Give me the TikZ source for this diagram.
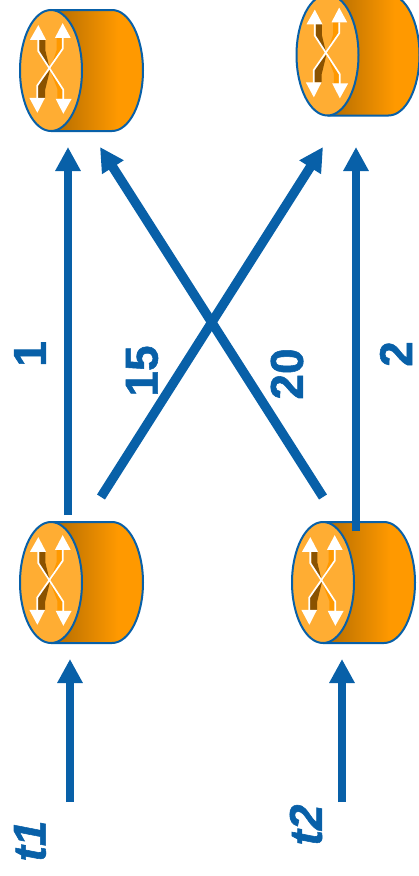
\documentclass[tikz,border=0pt]{standalone}
\usepackage{fontspec}
\setmainfont[BoldFont={Liberation Sans Bold},BoldFeatures={FakeBold=1.2},BoldItalicFont={Liberation Sans Bold Italic},BoldItalicFeatures={FakeBold=1.2}]{Liberation Sans}
\usetikzlibrary{arrows.meta}
\definecolor{netblue}{HTML}{0860A8}
\definecolor{bodyor}{HTML}{FF9900}
\definecolor{bodydk}{HTML}{9C5E00}
\definecolor{faceor}{HTML}{FFAD33}
\definecolor{shadedk}{HTML}{8A5200}
\pgfdeclarehorizontalshading{bodygrad}{100bp}{color(0bp)=(bodydk); color(22bp)=(bodydk); color(60bp)=(bodyor); color(100bp)=(bodyor)}
\tikzset{
  x=1pt,y=-1pt,
  link/.style={draw=netblue,line width=8.2pt,-{Triangle[length=24pt,width=24pt]}},
  diaglink/.style={link,line width=9.4pt},
  outline/.style={draw=netblue,line width=2pt},
  cross/.style={draw=white,line width=1.7pt},
  head/.style={fill=white,draw=none},
  lab/.style={text=netblue,font=\fontsize{46}{46}\selectfont\bfseries,rotate=90,inner sep=0pt},
  tlab/.style={lab,font=\fontsize{46}{46}\selectfont\bfseries\itshape},
}
\newcommand{\routerdraw}[3]{% name, cx, cy
  \coordinate (#1) at (#2,#3);
  \begin{scope}[shift={(#2,#3)}]
    \begin{scope}
      \clip (0,-60.5) -- (61,-60.5) arc[start angle=90,end angle=-90,x radius=31,y radius=-60.5] -- (0,60.5) -- cycle;
      \shade[shading=bodygrad,shading angle=0] (-10,-62) rectangle (100,62);
    \end{scope}
    \draw[outline] (0,-60.5) -- (61,-60.5) arc[start angle=90,end angle=-90,x radius=31,y radius=-60.5] -- (0,60.5);
    \draw[outline,fill=faceor] (0,0) ellipse[x radius=31,y radius=60.5];
    \begin{scope}[shift={(-1,-0.7)},x=0.3333pt,y=-0.3333pt]
      \fill[shadedk] (-32,-92) -- (-14,-92) -- (-14,-58) -- (0,0) -- (-32,-55) -- cycle;
      \fill[bodyor] (20,-96) -- (38,-96) -- (38,-63) -- (0,0) -- (20,-60) -- cycle;
      \fill[shadedk] (-38,84) -- (-15,84) -- (-15,62) -- (0,0) -- (-38,47) -- cycle;
      \fill[bodyor] (22,86) -- (40,86) -- (40,60) -- (0,0) -- (22,57) -- cycle;
      \draw[cross] (-35,-92) -- (-35,-56) -- (40,60) -- (40,90);
      \draw[cross] (38,-96) -- (38,-63) -- (-38,47) -- (-38,86);
      \fill[head] (-35,-134) -- (-60,-90) -- (-12,-90) -- cycle;
      \fill[head] (38,-140) -- (15,-96) -- (62,-96) -- cycle;
      \fill[head] (-38,129) -- (-62,84) -- (-15,84) -- cycle;
      \fill[head] (40,132) -- (17,87) -- (65,87) -- cycle;
    \end{scope}
  \end{scope}
}
\begin{document}
\begin{tikzpicture}
\useasboundingbox (0,0) rectangle (419,876);
\clip (0,0) rectangle (419,876);
\routerdraw{rtl}{51}{70.5}
\routerdraw{rtr}{327.5}{55}
\routerdraw{rbl}{51}{582.5}
\routerdraw{rbr}{323}{582.5}
\coordinate (a1s) at (68,515);
\coordinate (a1e) at (68,147);
\coordinate (a15s) at (101,497);
\coordinate (a15e) at (323,147);
\coordinate (a20s) at (323,497);
\coordinate (a20e) at (100,147);
\coordinate (a2s) at (356,531);
\coordinate (a2e) at (356,147);
\coordinate (t1s) at (70,802);
\coordinate (t1e) at (70,659);
\coordinate (t2s) at (342,802);
\coordinate (t2e) at (342,659);
\draw[link] (a1s) -- (a1e);
\draw[diaglink] (a15s) -- (a15e);
\draw[diaglink] (a20s) -- (a20e);
\draw[link] (a2s) -- (a2e);
\draw[link] (t1s) -- (t1e);
\draw[link] (t2s) -- (t2e);
\node[lab] (l1) at (30,354) {1};
\node[lab] (l15) at (142,371) {15};
\node[lab] (l20) at (287,374) {20};
\node[lab] (l2) at (396,354) {2};
\node[tlab] (lt1) at (30,841) {t1};
\node[tlab] (lt2) at (306,825) {t2};
\end{tikzpicture}
\end{document}
